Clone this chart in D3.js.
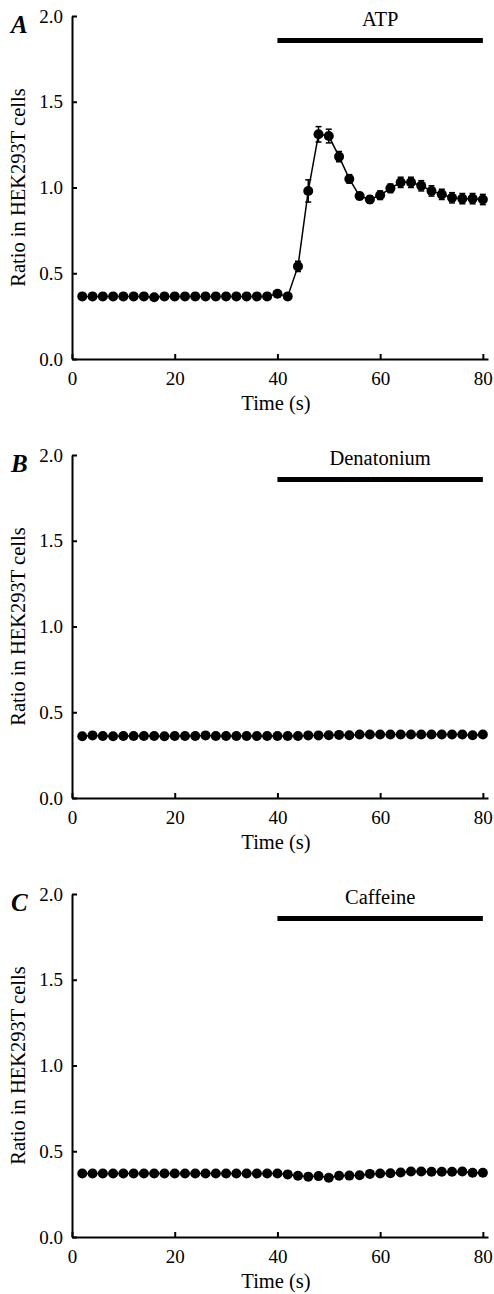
<!DOCTYPE html>
<html>
<head>
<meta charset="utf-8">
<script src="https://cdn.jsdelivr.net/npm/d3@7"></script>
<style>
  body { margin: 0; background: #fff; }
  svg { display: block; }
  svg text { font-family: "Liberation Serif", "Times New Roman", serif; }
</style>
</head>
<body>
<svg></svg>
<script>
// sample times (s)
let times = [2, 4, 6, 8, 10, 12, 14, 16, 18, 20, 22, 24, 26, 28, 30, 32, 34, 36, 38, 40,
  42, 44, 46, 48, 50, 52, 54, 56, 58, 60, 62, 64, 66, 68, 70, 72, 74, 76, 78, 80]

let atpMean = [0.365, 0.365, 0.365, 0.365, 0.365, 0.365, 0.365, 0.36, 0.365, 0.365,
  0.365, 0.365, 0.365, 0.365, 0.365, 0.365, 0.365, 0.365, 0.365, 0.38,
  0.365, 0.54, 0.98, 1.31, 1.30, 1.18, 1.05, 0.95, 0.93, 0.955,
  0.995, 1.03, 1.03, 1.01, 0.98, 0.96, 0.94, 0.935, 0.935, 0.93]
let atpErr = [0.01, 0.01, 0.01, 0.01, 0.01, 0.01, 0.01, 0.01, 0.01, 0.01,
  0.01, 0.01, 0.01, 0.01, 0.01, 0.01, 0.01, 0.01, 0.01, 0.01,
  0.01, 0.03, 0.065, 0.045, 0.04, 0.03, 0.025, 0.02, 0.02, 0.025,
  0.025, 0.03, 0.03, 0.03, 0.03, 0.03, 0.03, 0.03, 0.03, 0.03]

let denMean = [0.36, 0.365, 0.362, 0.36, 0.362, 0.362, 0.362, 0.362, 0.36, 0.362,
  0.362, 0.362, 0.365, 0.362, 0.362, 0.362, 0.362, 0.362, 0.362, 0.362,
  0.362, 0.362, 0.365, 0.365, 0.366, 0.368, 0.366, 0.37, 0.37, 0.37,
  0.37, 0.37, 0.37, 0.37, 0.37, 0.37, 0.37, 0.37, 0.366, 0.37]
let denErr = times.map(() => 0.008)

let cafMean = [0.37, 0.37, 0.37, 0.37, 0.37, 0.37, 0.37, 0.37, 0.37, 0.37,
  0.37, 0.37, 0.37, 0.37, 0.37, 0.37, 0.37, 0.37, 0.37, 0.37,
  0.365, 0.357, 0.352, 0.355, 0.345, 0.357, 0.358, 0.36, 0.368, 0.37,
  0.372, 0.376, 0.382, 0.382, 0.38, 0.38, 0.38, 0.382, 0.375, 0.375]
let cafErr = times.map(() => 0.008)

let panels = [
  { letter: 'A', drug: 'ATP', mean: atpMean, err: atpErr },
  { letter: 'B', drug: 'Denatonium', mean: denMean, err: denErr },
  { letter: 'C', drug: 'Caffeine', mean: cafMean, err: cafErr }
]

let xTicks = [0, 20, 40, 60, 80]
let yTicks = [0, 0.5, 1.0, 1.5, 2.0]
let drugStart = 40
let drugEnd = 80
let barLevel = 1.857
let drugLabelLevel = 1.94

let w = 494
let h = 1294
let left = 72
let right = 488
let plotH = 343
let top0 = 16
let step = 439
let serif = '"Liberation Serif", "Times New Roman", serif'

let svg = d3.select('svg').attr('width', w).attr('height', h)

let xScale = d3.scaleLinear().domain([0, 81]).range([left, right])

let drawPanel = (p, i) => {
  let top = top0 + i * step
  let yScale = d3.scaleLinear().domain([0, 2]).range([top + plotH, top])
  let g = svg.append('g')

  let xAxis = d3.axisBottom(xScale).tickValues(xTicks).tickFormat(d3.format('d'))
    .tickSizeInner(-5).tickSizeOuter(0).tickPadding(10)
  let yAxis = d3.axisLeft(yScale).tickValues(yTicks).tickFormat(d3.format('.1f'))
    .tickSizeInner(-5).tickSizeOuter(0).tickPadding(9)

  let gx = g.append('g')
    .attr('transform', 'translate(0,' + (top + plotH) + ')')
    .call(xAxis)
  let gy = g.append('g')
    .attr('transform', 'translate(' + left + ',0)')
    .call(yAxis)

  ;[gx, gy].forEach(a => {
    a.attr('font-family', serif).attr('font-size', 19)
    a.select('.domain').attr('stroke', '#000').attr('stroke-width', 2)
    a.selectAll('.tick line').attr('stroke', '#000').attr('stroke-width', 2)
    a.selectAll('.tick text').attr('fill', '#000')
  })
  gx.selectAll('.tick text').attr('dy', '0.85em')

  g.append('text')
    .attr('x', (left + right) / 2 - 4)
    .attr('y', top + plotH + 51)
    .attr('text-anchor', 'middle')
    .style('font-size', '20.5px')
    .text('Time (s)')

  g.append('text')
    .attr('transform', 'translate(25,' + (top + plotH / 2) + ') rotate(-90)')
    .attr('text-anchor', 'middle')
    .style('font-size', '20.5px')
    .text('Ratio in HEK293T cells')

  g.append('text')
    .attr('x', 11)
    .attr('y', top + 17)
    .style('font-size', '25px')
    .style('font-weight', 'bold')
    .style('font-style', 'italic')
    .text(p.letter)

  // application bar
  g.append('line')
    .attr('x1', xScale(drugStart)).attr('x2', xScale(drugEnd))
    .attr('y1', yScale(barLevel)).attr('y2', yScale(barLevel))
    .attr('stroke', '#000').attr('stroke-width', 5)

  g.append('text')
    .attr('x', xScale((drugStart + drugEnd) / 2))
    .attr('y', yScale(drugLabelLevel))
    .attr('text-anchor', 'middle')
    .style('font-size', '20.5px')
    .text(p.drug)

  let data = times.map((t, j) => ({ t: t, v: p.mean[j], e: p.err[j] }))

  let line = d3.line().x(d => xScale(d.t)).y(d => yScale(d.v))
  g.append('path')
    .datum(data)
    .attr('d', line)
    .attr('fill', 'none')
    .attr('stroke', '#000')
    .attr('stroke-width', 1.5)

  let eb = g.selectAll('.err')
    .data(data)
    .enter()
    .append('g')
    .attr('class', 'err')
  eb.append('line')
    .attr('x1', d => xScale(d.t)).attr('x2', d => xScale(d.t))
    .attr('y1', d => yScale(d.v - d.e)).attr('y2', d => yScale(d.v + d.e))
    .attr('stroke', '#000').attr('stroke-width', 1.5)
  ;[-1, 1].forEach(s => {
    eb.append('line')
      .attr('x1', d => xScale(d.t) - 3).attr('x2', d => xScale(d.t) + 3)
      .attr('y1', d => yScale(d.v + s * d.e)).attr('y2', d => yScale(d.v + s * d.e))
      .attr('stroke', '#000').attr('stroke-width', 1.5)
  })

  g.selectAll('.dot')
    .data(data)
    .enter()
    .append('circle')
    .attr('class', 'dot')
    .attr('cx', d => xScale(d.t))
    .attr('cy', d => yScale(d.v))
    .attr('r', 5)
    .attr('fill', '#000')
}

panels.forEach(drawPanel)
</script>
</body>
</html>
